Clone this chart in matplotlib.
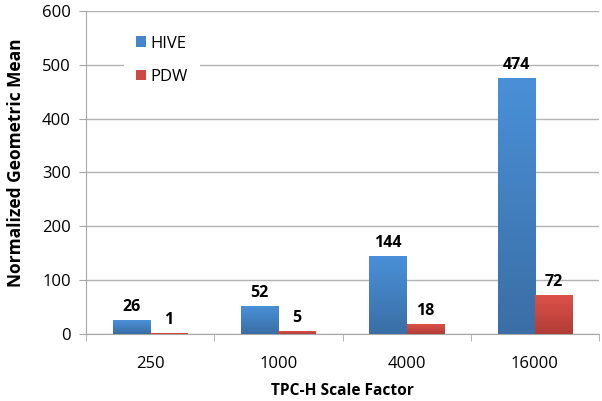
import matplotlib
matplotlib.use("Agg")
import matplotlib.pyplot as plt
import numpy as np
from matplotlib.colors import LinearSegmentedColormap
from matplotlib.patches import Patch

categories = ["250", "1000", "4000", "16000"]
hive = [26, 52, 144, 474]
pdw = [1, 5, 18, 72]

plt.rcParams['font.family'] = ['Open Sans', 'DejaVu Sans']

fig = plt.figure(figsize=(6.02, 4.01), dpi=100)
ax = fig.add_axes([0.1429, 0.1671, 0.8521, 0.8055])

x = np.arange(len(categories))
w = 0.29
off = 0.145

blue_cmap = LinearSegmentedColormap.from_list("b", ["#3a6ea5", "#4a90d8"])
red_cmap = LinearSegmentedColormap.from_list("r", ["#b23c36", "#dc5149"])
grad = np.linspace(0, 1, 256).reshape(-1, 1)

def gbar(xc, h, cmap):
    ax.imshow(grad, cmap=cmap, origin="lower", aspect="auto",
              extent=(xc - w / 2, xc + w / 2, 0, h), zorder=3, interpolation="bilinear")

for i in range(len(categories)):
    gbar(x[i] - off, hive[i], blue_cmap)
    gbar(x[i] + off, pdw[i], red_cmap)
    ax.text(x[i] - off, hive[i] + 10, str(hive[i]), ha="center", va="bottom",
            fontsize=11.5, fontweight="bold", zorder=4)
    ax.text(x[i] + off, pdw[i] + 10, str(pdw[i]), ha="center", va="bottom",
            fontsize=11.5, fontweight="bold", zorder=4)

ax.set_xlim(-0.5, len(categories) - 0.5)
ax.set_ylim(0, 600)
ax.set_yticks(range(0, 601, 100))
ax.set_xticks(x)
ax.set_xticklabels(categories)
ax.set_xticks(np.arange(-0.5, len(categories), 1.0), minor=True)
ax.tick_params(axis="x", which="major", length=0, pad=16, labelsize=12)
ax.tick_params(axis="x", which="minor", length=5, color="#a6a6a6", direction="out")
ax.tick_params(axis="y", length=5, color="#a6a6a6", labelsize=12, pad=6)

ax.grid(axis="y", color="#b3b3b3", linewidth=1, zorder=0)
ax.set_axisbelow(True)
for s in ["top", "right"]:
    ax.spines[s].set_visible(False)
for s in ["left", "bottom"]:
    ax.spines[s].set_color("#a6a6a6")

ax.set_xlabel("TPC-H Scale Factor", fontsize=11.2, fontweight="bold", labelpad=7.5)
ax.set_ylabel("Normalized Geometric Mean", fontsize=12.5, fontweight="bold")
ax.yaxis.set_label_coords(-0.119, 0.531)

handles = [Patch(facecolor="#4585cc", label="HIVE"), Patch(facecolor="#cc4a43", label="PDW")]
leg = ax.legend(handles=handles, loc="upper left", bbox_to_anchor=(0.074, 0.96),
                frameon=True, fancybox=False, edgecolor="none", facecolor="white", framealpha=1,
                handlelength=0.6, handleheight=0.6, handletextpad=0.3, labelspacing=1.05,
                fontsize=12, borderpad=0.7, borderaxespad=0)
leg.set_zorder(5)

fig.savefig("out.png", dpi=100)
